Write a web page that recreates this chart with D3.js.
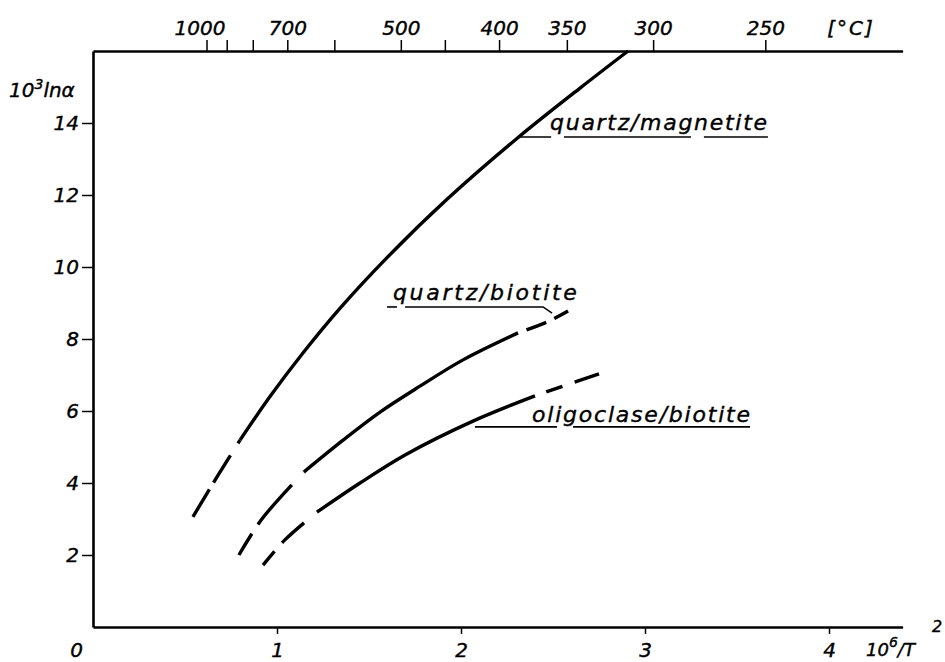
<!DOCTYPE html>
<html>
<head>
<meta charset="utf-8">
<script src="https://cdn.jsdelivr.net/npm/d3@7"></script>
<style>
  body { margin: 0; background: #fff; }
  text { font-family: "DejaVu Sans", sans-serif; font-style: italic; fill: #000; stroke: #000; stroke-width: 0.4px; }
</style>
</head>
<body>
<div id="chart"></div>
<script>
// Axis ticks
let xTicks = [0, 1, 2, 3, 4];
let yTicks = [2, 4, 6, 8, 10, 12, 14];
let tempTicks = [1000, 900, 800, 700, 600, 500, 450, 400, 350, 300, 250];
let tempLabels = [1000, 700, 500, 400, 350, 300, 250];

// Curves: [10^6/T^2, 10^3 ln alpha]
let qzMagnetite = [[0.543, 3.06], [0.674, 4.17], [0.799, 5.19], [0.962, 6.40], [1.141, 7.61],
    [1.342, 8.85], [1.598, 10.26], [1.924, 11.88], [2.304, 13.57], [2.647, 14.97], [2.908, 16.0]];
let qzBiotite = [[0.793, 2.00], [0.918, 3.00], [1.147, 4.31], [1.359, 5.19], [1.560, 5.97],
    [1.777, 6.69], [2.011, 7.42], [2.310, 8.17], [2.467, 8.47], [2.582, 8.78]];
let oligBiotite = [[0.924, 1.72], [1.043, 2.42], [1.217, 3.19], [1.451, 4.00], [1.696, 4.78],
    [2.065, 5.72], [2.402, 6.42], [2.554, 6.69], [2.750, 7.03]];

// Curve labels
let labelNames = ['quartz/magnetite', 'quartz/biotite', 'oligoclase/biotite'];
let labelAnchors = [[2.484, 13.81], [1.630, 9.08], [2.386, 5.69]];

// Chart dimensions
let svgWidth = 945;
let svgHeight = 662;
let plot = { left: 93, right: 902.6, top: 51, bottom: 627 };

let svg = d3.select('#chart').append('svg')
    .attr('width', svgWidth)
    .attr('height', svgHeight);

let xScale = d3.scaleLinear().domain([0, 4.4]).range([plot.left, plot.right]);
let yScale = d3.scaleLinear().domain([0, 16]).range([plot.bottom, plot.top]);
let tempToX = t => 1e6 / Math.pow(t + 273.15, 2);

// Axes
let xAxis = d3.axisBottom(xScale).tickValues(xTicks).tickFormat(d3.format('d'))
    .tickSize(7).tickSizeOuter(0).tickPadding(9);
let yAxis = d3.axisLeft(yScale).tickValues(yTicks).tickSize(11).tickSizeOuter(0).tickPadding(3);
let tAxis = d3.axisTop(xScale)
    .tickValues(tempTicks.map(tempToX))
    .tickSize(11).tickSizeOuter(0).tickPadding(5)
    .tickFormat((d, i) => tempLabels.includes(tempTicks[i]) ? tempTicks[i] : '');

let gx = svg.append('g').attr('transform', `translate(0, ${plot.bottom})`).call(xAxis);
let gy = svg.append('g').attr('transform', `translate(${plot.left}, 0)`).call(yAxis);
let gt = svg.append('g').attr('transform', `translate(0, ${plot.top})`).call(tAxis);

[gx, gy, gt].forEach(g => {
    g.attr('font-family', null).attr('font-size', null);
    g.select('.domain').attr('stroke', '#000').attr('stroke-width', 2.6);
    g.selectAll('.tick line').attr('stroke', '#000').attr('stroke-width', 1.5);
    g.selectAll('.tick text').style('font-size', '20px');
});
gx.selectAll('.tick').filter(d => d === 0).select('line').remove();
gx.selectAll('.tick').filter(d => d === 0).select('text').attr('x', -17);
gt.selectAll('.tick text').filter((d, i) => tempTicks[i] === 1000).attr('x', -7);

// Axis titles
svg.append('text')
    .attr('x', 851).attr('y', 35)
    .attr('text-anchor', 'middle')
    .style('font-size', '20px')
    .style('letter-spacing', '2px')
    .text('[°C]');

let yTitle = svg.append('text').attr('x', 9).attr('y', 97).style('font-size', '20px');
yTitle.append('tspan').text('10');
yTitle.append('tspan').attr('dy', -8).style('font-size', '14px').text('3');
yTitle.append('tspan').attr('dy', 8).text('lnα');

let xTitle = svg.append('text').attr('x', 866).attr('y', 656).style('font-size', '18px');
xTitle.append('tspan').text('10');
xTitle.append('tspan').attr('dy', -9).style('font-size', '14px').text('6');
xTitle.append('tspan').attr('dy', 9).text('/T');
svg.append('text').attr('x', 932).attr('y', 632).style('font-size', '16px').text('2');

// Curves: dashed extrapolation, solid measured range, dashed extrapolation
let curves = [
    { pts: qzMagnetite, solid: [2, 10], lowDash: '32,8,32,14', highDash: null },
    { pts: qzBiotite, solid: [2, 7], lowDash: '25,11,52,17', highDash: '0,9,21,9,16' },
    { pts: oligBiotite, solid: [2, 6], lowDash: '18,11,30,17', highDash: '0,12,17,13,26' }
];

let line = d3.line()
    .x(d => xScale(d[0]))
    .y(d => yScale(d[1]))
    .curve(d3.curveCatmullRom.alpha(0.5));

curves.forEach(c => {
    let parts = [
        { p: c.pts.slice(0, c.solid[0] + 1), dash: c.lowDash },
        { p: c.pts.slice(c.solid[0], c.solid[1] + 1), dash: null },
        { p: c.pts.slice(c.solid[1]), dash: c.highDash }
    ];
    parts.forEach(part => {
        if (part.p.length < 2) return;
        svg.append('path')
            .attr('d', line(part.p))
            .attr('fill', 'none')
            .attr('stroke', '#000')
            .attr('stroke-width', 3.4)
            .attr('stroke-dasharray', part.dash);
    });
});

// Curve labels with underlines
let labelWidths = [217, 184, 218];
labelNames.forEach((name, i) => {
    svg.append('text')
        .attr('x', xScale(labelAnchors[i][0]))
        .attr('y', yScale(labelAnchors[i][1]))
        .attr('textLength', labelWidths[i])
        .attr('lengthAdjust', 'spacing')
        .style('font-size', '22px')
        .text(name);
});

let underlines = [
    [[2.304, 13.61], [2.49, 13.61]], [[2.56, 13.61], [3.25, 13.61]], [[3.32, 13.61], [3.668, 13.61]],
    [[1.598, 8.89], [1.652, 8.89]], [[1.696, 8.89], [2.446, 8.89], [2.495, 8.72]],
    [[2.076, 5.56], [2.522, 5.56]], [[2.609, 5.56], [3.571, 5.56]]
];
underlines.forEach(u => {
    svg.append('path')
        .attr('d', d3.line().x(d => xScale(d[0])).y(d => yScale(d[1]))(u))
        .attr('fill', 'none')
        .attr('stroke', '#000')
        .attr('stroke-width', 1.6);
});
</script>
</body>
</html>
